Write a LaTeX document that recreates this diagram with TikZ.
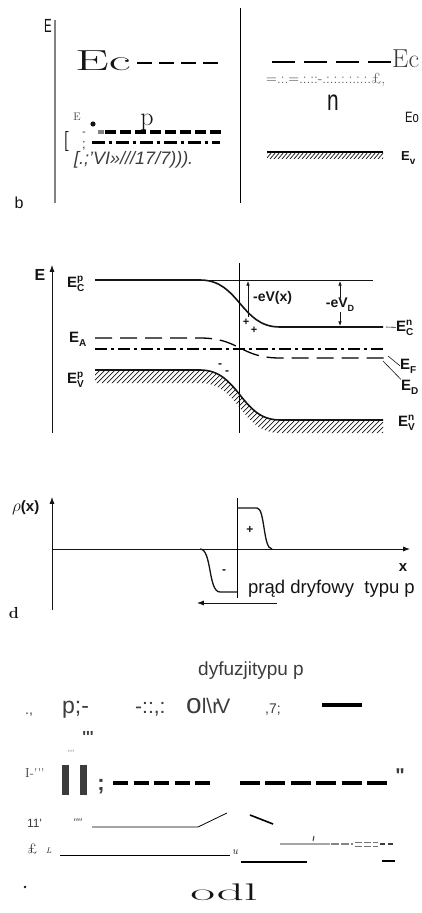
\documentclass[tikz,border=0pt]{standalone}
\usepackage{fontspec}
\setsansfont{Liberation Sans}
\usetikzlibrary{arrows.meta,positioning}
\definecolor{inkcolor}{RGB}{20,20,20}
\definecolor{scangray}{RGB}{130,130,130}
\definecolor{ocrgray}{RGB}{60,60,60}
\definecolor{palegray}{RGB}{165,165,165}
\newcommand{\fs}[1]{\fontsize{#1}{#1}\selectfont}
\newcommand{\lvl}[3]{#1\rlap{\raisebox{6pt}{\fs{10}#2}}\raisebox{-4pt}{\fs{10}#3}}
\newcommand{\tq}{\textquotesingle}
\tikzset{
ocrsans/.style={
  font=\sffamily,
  inner sep=0pt,
  text=ocrgray
},
ocrserif/.style={
  font=\rmfamily,
  inner sep=0pt,
  text=inkcolor
},
bandlabel/.style={
  font=\sffamily\bfseries\fs{15},
  inner sep=0pt,
  text=inkcolor
},
band/.style={
  line width=1.6pt,
  draw=inkcolor
},
thinline/.style={
  line width=0.6pt,
  draw=inkcolor
},
axis/.style={
  -{Latex[length=2.4mm,width=1.8mm]},
  line width=1pt,
  draw=inkcolor
},
smallarrow/.style={
  -{Latex[length=1.6mm,width=1.2mm]},
  line width=0.6pt,
  draw=inkcolor
},
hatch/.style={
  line width=0.7pt,
  draw=inkcolor
}
}

\begin{document}
\begin{tikzpicture}[x=1pt,y=-1pt]
\useasboundingbox (0,0) rectangle (422,913);

% b: p and n apart
\node[ocrsans, text=inkcolor, font=\sffamily\fs{19}, anchor=base] (eaxisb) at (48,32) {\scalebox{0.6}[1]{E}};
\draw[line width=2.2pt, draw=scangray] (55,20) -- (55,203);
\draw[line width=0.8pt] (240,8) -- (240,203);
\node[ocrserif, font=\rmfamily\fs{29}, anchor=base west] (ecp) at (75,70) {\scalebox{1.85}[1]{Ec}};
\draw[line width=1.3pt, dash pattern=on 15pt off 7pt] (137,63) -- (218,63);
\node[ocrserif, font=\rmfamily\fs{11}, text=ocrgray, anchor=base] (esmall) at (77,120) {E};
\fill[inkcolor] (93,124) circle[radius=2.6pt];
\node[ocrserif, font=\rmfamily\fs{26}, anchor=base] (plabel) at (147,125) {p};
\draw[line width=4pt, draw=scangray] (98,131.5) -- (104,131.5);
\draw[line width=4pt, dash pattern=on 11pt off 4pt] (105,131.5) -- (222,131.5);
\draw[line width=3pt, dash pattern=on 13pt off 4pt on 3pt off 4pt] (92,142) -- (220,142);
\node[ocrserif, font=\rmfamily\bfseries\fs{20}] (bracket) at (66,141) {[};
\node[ocrsans, font=\sffamily\fs{11}] (dashmark) at (84,134) {-};
\node[ocrsans, font=\sffamily\fs{13}] (semimark) at (84,146) {;};
\node[ocrsans, font=\sffamily\itshape\fs{18}, anchor=base west] (ocrline) at (74,164) {[.;'VI»///17/7))).};
\draw[line width=1.6pt, dash pattern=on 23pt off 9pt] (272,62) -- (392,62);
\node[ocrserif, font=\rmfamily\fs{26}, text=ocrgray, anchor=base west] (ecn) at (392,67) {Ec};
\node[ocrserif, font=\rmfamily\fs{15}, text=ocrgray, anchor=base west] (fermidots) at (266,83) {=.:.=.:.::-.:.:.:.:.:.:.£,};
\node[ocrsans, text=inkcolor, font=\sffamily\fs{29}, anchor=base] (nlabel) at (333,110) {\scalebox{0.72}[1]{n}};
\node[ocrsans, text=inkcolor, font=\sffamily\fs{15}, anchor=base west] (e0label) at (405,122) {\scalebox{0.75}[1]{Eo}};
\draw[line width=2pt] (267,152) -- (383,152);
\begin{scope}
  \clip (267,151) rectangle (383,159);
  \foreach \hx in {262,266,...,382}
    \draw[hatch] (\hx,159) -- (\hx+6,152);
\end{scope}
\node[bandlabel, font=\sffamily\bfseries\fs{13}, anchor=base west] (evn) at (401,160) {\lvl{E}{}{v}};
\node[ocrsans, text=inkcolor, font=\sffamily\fs{16}, anchor=base] (panelb) at (19,208) {b};

% c: junction band diagram
\node[bandlabel, font=\sffamily\bfseries\fs{16}, anchor=base] (eaxisc) at (40,280) {E};
\coordinate (ebottom) at (52,433);
\coordinate (etop) at (52,265);
\draw[axis] (ebottom) -- (etop);
\node[bandlabel, anchor=base west] (ecpl) at (67,287) {\lvl{E}{p}{C}};
\draw[thinline] (200,280) -- (373,280);
\draw[band] (95,280) -- (200,280) .. controls (240,280) and (240,327) .. (280,327) -- (383,327);
\draw[line width=0.9pt] (239,263) -- (239,433);
\coordinate (vxtop) at (248,281);
\coordinate (vxbot) at (248,317);
\draw[smallarrow, {Latex[length=1.6mm,width=1.2mm]}-] (vxtop) -- (vxbot);
\node[bandlabel, font=\sffamily\bfseries\fs{14}, anchor=west] (vxlabel) at (253,298) {-eV(x)};
\node[bandlabel, font=\sffamily\bfseries\fs{14}] (vdlabel) at (340,305) {-eV\raisebox{-4pt}{\fs{9}D}};
\coordinate (vdtop) at (340,281);
\coordinate (vdbot) at (340,326);
\draw[smallarrow] (vdlabel.north) -- (vdtop);
\draw[smallarrow] (vdlabel.south) -- (vdbot);
\node[bandlabel, font=\sffamily\bfseries\fs{11}] (plus1) at (246,322) {+};
\node[bandlabel, font=\sffamily\bfseries\fs{11}] (plus2) at (254,330) {+};
\node[bandlabel, anchor=base west] (ecnl) at (396,331) {\lvl{E}{n}{C}};
\coordinate (ecnend) at (386,327);
\draw[thinline] (ecnend) -- (ecnl.west);
\node[bandlabel, anchor=base west] (eal) at (69,342) {\lvl{E}{}{A}};
\draw[line width=1.3pt, dash pattern=on 17pt off 8pt] (95,338) -- (200,338) .. controls (240,338) and (240,358) .. (280,358) -- (388,358);
\draw[line width=1.3pt, dash pattern=on 12pt off 4pt on 3pt off 4pt] (95,349) -- (385,349);
\node[bandlabel, anchor=base west] (efl) at (400,369) {\lvl{E}{}{F}};
\node[bandlabel, anchor=base west] (edl) at (401,390) {\lvl{E}{}{D}};
\coordinate (efstart) at (388,356);
\coordinate (edstart) at (383,361);
\draw[thinline] (efstart) -- (efl.west);
\draw[thinline] (edstart) -- (edl.north west);
\node[bandlabel, font=\sffamily\bfseries\fs{12}] (minus1) at (220,366) {-};
\node[bandlabel, font=\sffamily\bfseries\fs{12}] (minus2) at (227,373) {-};
\begin{scope}
  \clip (95,370) -- (200,370) .. controls (240,370) and (240,420) .. (280,420) -- (383,420) -- (383,433) -- (280,433) .. controls (240,433) and (240,383) .. (200,383) -- (95,383) -- cycle;
  \foreach \hx in {25,30,...,385}
    \draw[hatch] (\hx,440) -- (\hx+70,370);
\end{scope}
\draw[band] (95,370) -- (200,370) .. controls (240,370) and (240,420) .. (280,420) -- (383,420);
\node[bandlabel, anchor=base west] (evpl) at (67,383) {\lvl{E}{p}{V}};
\node[bandlabel, anchor=base west] (evnl) at (398,426) {\lvl{E}{n}{V}};

% d: space charge
\node[bandlabel, anchor=base west] (rholabel) at (12,511) {{\fs{18}$\rho$}(x)};
\coordinate (rhobottom) at (52,610);
\coordinate (rhotop) at (52,497);
\coordinate (xorigin) at (52,549);
\coordinate (xend) at (410,549);
\draw[axis] (rhobottom) -- (rhotop);
\draw[axis] (xorigin) -- (xend);
\node[bandlabel, anchor=base] (xlabel) at (403,571) {x};
\draw[line width=0.9pt] (237,498) -- (237,598);
\draw[band, line width=1.3pt] (237,508) -- (257,508) .. controls (265,508) and (263,549) .. (272,549);
\draw[band, line width=1.3pt] (200,549) .. controls (212,549) and (208,592) .. (220,592) -- (237,592);
\node[bandlabel, font=\sffamily\bfseries\fs{12}] (pluscharge) at (250,530) {+};
\node[bandlabel, font=\sffamily\bfseries\fs{12}] (minuscharge) at (224,572) {-};
\node[ocrsans, text=inkcolor, font=\sffamily\fs{18.5}, anchor=base west] (driftlabel) at (248,593) {prąd dryfowy~ typu p};
\coordinate (driftstart) at (277,603);
\coordinate (driftend) at (197,603);
\draw[axis, line width=0.9pt] (driftstart) -- (driftend);
\node[ocrserif, font=\rmfamily\bfseries\fs{16}, anchor=base] (paneld) at (14,618) {d};

% lower OCR remnants
\node[ocrsans, font=\sffamily\fs{19}, anchor=base west] (diffline) at (198,675) {dyfuzjitypu p};
\node[ocrsans, font=\sffamily\fs{14}, anchor=base west] (dotcomma) at (25,714) {.,};
\node[ocrsans, font=\sffamily\fs{23}, anchor=base west] (pmark) at (62,713) {p;-};
\node[ocrsans, font=\sffamily\fs{21}, anchor=base west] (colons) at (135,713) {-::,:};
\node[ocrsans, font=\sffamily\fs{21}, anchor=base west] (olrv) at (186,713) {{\fs{28}o}l\textbackslash r\kern-3pt V};
\node[ocrsans, font=\sffamily\fs{14}, anchor=base west] (seven) at (265,713) {,7;};
\draw[line width=3.5pt] (322,705) -- (362,705);
\node[ocrsans, font=\sffamily\bfseries\fs{16}, anchor=base] (ticks3) at (88,742) {\tq\tq\tq};
\node[ocrsans, font=\sffamily\fs{9}, text=palegray, anchor=base] (ticks4) at (71,756) {\tq\tq\tq\tq};
\node[ocrserif, font=\rmfamily\fs{13}, text=ocrgray, anchor=base west] (ibar) at (25,777) {I-\tq\tq\tq};
\fill[ocrgray] (62,765) rectangle (69,795);
\fill[ocrgray] (80,765) rectangle (87,795);
\node[ocrsans, font=\sffamily\bfseries\fs{22}, anchor=base] (semibig) at (101,790) {;};
\draw[line width=3.5pt, dash pattern=on 15pt off 5.5pt] (113,783) -- (210,783);
\draw[line width=3.5pt, dash pattern=on 20pt off 5.4pt] (240,783) -- (387,783);
\node[ocrsans, font=\sffamily\bfseries\fs{20}, anchor=base] (quotemark) at (400,782) {\textquotedbl};
\node[ocrsans, font=\sffamily\fs{12}, anchor=base west] (elevenmark) at (27,827) {11\tq};
\node[ocrsans, font=\sffamily\itshape\fs{11}, anchor=base west] (ticks5) at (73,826) {\tq\tq\tq\tq};
\draw[line width=0.8pt] (92,827) -- (198,827) -- (227,813);
\draw[line width=1.6pt] (250,815) -- (273,824);
\node[ocrserif, font=\rmfamily\fs{14}, anchor=base west] (pound) at (27,853) {£};
\node[ocrserif, font=\rmfamily\itshape\fs{8}, anchor=base west] (lmark) at (46,853) {L};
\draw[line width=0.8pt] (60,855) -- (230,855);
\node[ocrserif, font=\rmfamily\itshape\fs{11}, anchor=base west] (umark) at (232,854) {u};
\draw[line width=1.3pt] (241,862) -- (307,862);
\draw[line width=1.6pt, draw=palegray] (280,844) -- (330,844);
\draw[line width=1pt, draw=ocrgray] (313,841) -- (314,836);
\draw[line width=1.4pt, draw=palegray!80!black, dash pattern=on 8pt off 2pt] (331,844) -- (353,844);
\draw[line width=1pt, draw=palegray!70!black, dash pattern=on 7pt off 2pt] (355,842) -- (378,842);
\draw[line width=1pt, draw=palegray!70!black, dash pattern=on 7pt off 2pt] (355,846) -- (378,846);
\draw[line width=1.4pt, draw=ocrgray, dash pattern=on 5pt off 3pt] (380,844) -- (394,844);
\draw[line width=1.8pt] (382,861) -- (395,861);
\fill[inkcolor] (25,887) circle[radius=1.3pt];
\node[ocrserif, font=\rmfamily\fs{24}, anchor=base] (odlmark) at (224,900) {\scalebox{2.25}[1]{odl}};
\end{tikzpicture}
\end{document}
